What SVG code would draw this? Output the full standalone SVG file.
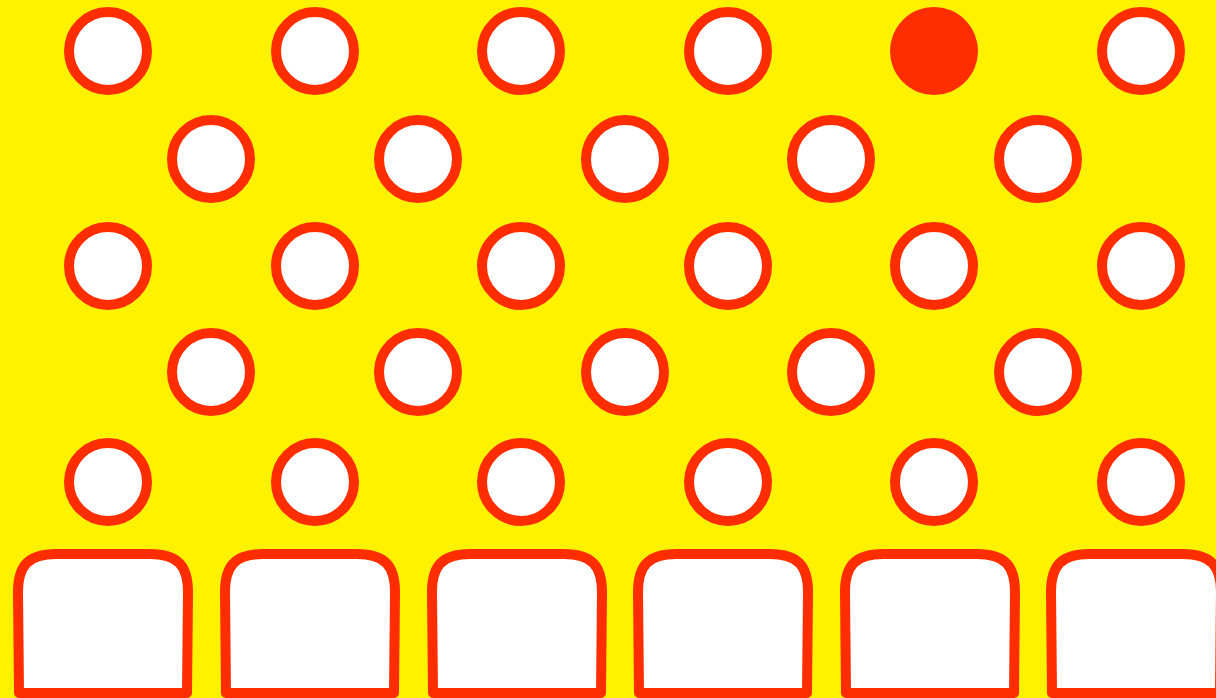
<svg xmlns="http://www.w3.org/2000/svg" width="1216" height="698" viewBox="0 0 1216 698">
<style>
.peg{fill:#ffffff;stroke:#ff2d00;stroke-width:10}
.ball{fill:#ff2d00}
.bin{fill:#ffffff;stroke:#ff2d00;stroke-width:10;stroke-linejoin:round}
</style>
<defs>
<path id="binShape" d="M1,693 L0,592 C0,566 10,554 38,554 L132,554 C160,554 170,566 170,592 L169,693 Z"/>
</defs>
<rect width="1216" height="698" fill="#fff200"/>
<g id="row1">
<circle class="peg" cx="108" cy="51" r="39"/>
<circle class="peg" cx="315" cy="51" r="39"/>
<circle class="peg" cx="521" cy="51" r="39"/>
<circle class="peg" cx="728" cy="51" r="39"/>
<circle class="ball" id="ball" cx="934" cy="51" r="44"/>
<circle class="peg" cx="1141" cy="51" r="39"/>
</g>
<g id="row2">
<circle class="peg" cx="211" cy="159" r="39"/>
<circle class="peg" cx="418" cy="159" r="39"/>
<circle class="peg" cx="625" cy="159" r="39"/>
<circle class="peg" cx="831" cy="159" r="39"/>
<circle class="peg" cx="1038" cy="159" r="39"/>
</g>
<g id="row3">
<circle class="peg" cx="108" cy="266" r="39"/>
<circle class="peg" cx="315" cy="266" r="39"/>
<circle class="peg" cx="521" cy="266" r="39"/>
<circle class="peg" cx="728" cy="266" r="39"/>
<circle class="peg" cx="934" cy="266" r="39"/>
<circle class="peg" cx="1141" cy="266" r="39"/>
</g>
<g id="row4">
<circle class="peg" cx="211" cy="372" r="39"/>
<circle class="peg" cx="418" cy="372" r="39"/>
<circle class="peg" cx="625" cy="372" r="39"/>
<circle class="peg" cx="831" cy="372" r="39"/>
<circle class="peg" cx="1038" cy="372" r="39"/>
</g>
<g id="row5">
<circle class="peg" cx="108" cy="482" r="39"/>
<circle class="peg" cx="315" cy="482" r="39"/>
<circle class="peg" cx="521" cy="482" r="39"/>
<circle class="peg" cx="728" cy="482" r="39"/>
<circle class="peg" cx="934" cy="482" r="39"/>
<circle class="peg" cx="1141" cy="482" r="39"/>
</g>
<g id="bins">
<use href="#binShape" class="bin" x="18"/>
<use href="#binShape" class="bin" x="225"/>
<use href="#binShape" class="bin" x="432"/>
<use href="#binShape" class="bin" x="638"/>
<use href="#binShape" class="bin" x="845"/>
<use href="#binShape" class="bin" x="1051"/>
</g>
</svg>
